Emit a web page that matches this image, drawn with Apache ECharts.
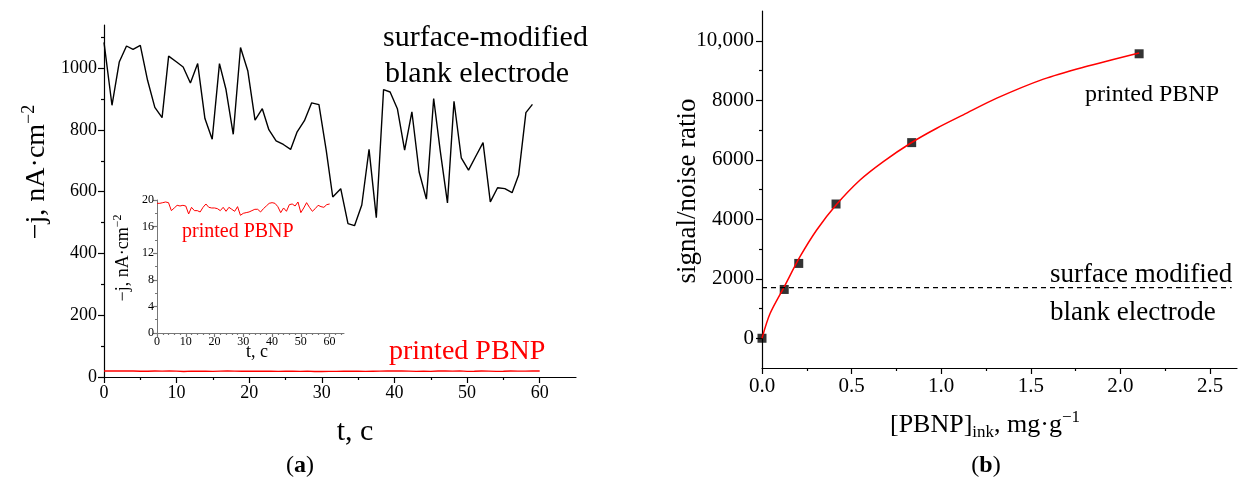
<!DOCTYPE html>
<html>
<head>
<meta charset="utf-8">
<script src="https://cdn.jsdelivr.net/npm/echarts@6/dist/echarts.min.js"></script>
<style>
  html, body { margin: 0; padding: 0; background: #fff; }
  #chart { width: 1254px; height: 484px; }
</style>
</head>
<body>
<div id="chart"></div>
<script>
// (a) current density vs time, surface-modified blank electrode
const blankT = [0, 1.1, 2.1, 3.1, 4.0, 5.0, 6.0, 7.0, 8.0, 8.9, 10.0, 10.9, 11.9, 12.9, 13.9,
  14.9, 15.9, 16.8, 17.8, 18.8, 19.8, 20.8, 21.8, 22.7, 23.7, 24.7, 25.7, 26.6, 27.6, 28.6,
  29.6, 30.6, 31.5, 32.6, 33.6, 34.5, 35.5, 36.5, 37.5, 38.5, 39.4, 40.4, 41.4, 42.4, 43.4,
  44.4, 45.4, 46.3, 47.3, 48.2, 49.2, 50.2, 51.2, 52.2, 53.2, 54.2, 55.2, 56.2, 57.1, 58.1, 59.0]
const blankJ = [1084, 880, 1020, 1072, 1061, 1074, 961, 873, 840, 1039, 1020, 1004, 952, 1015, 837,
  770, 1015, 931, 786, 1067, 992, 832, 869, 801, 765, 753, 737, 794, 830, 888,
  882, 735, 583, 610, 497, 490, 557, 737, 516, 931, 923, 869, 735, 859, 664,
  576, 902, 733, 564, 893, 710, 670, 715, 759, 567, 613, 610, 597, 654, 856, 883]

// printed PBNP, one reading per second (t = 0..60)
const pbnpJ = [19.5, 19.5, 19.6, 19.7, 19.6, 18.4, 18.8, 19.2, 19.1, 19.2, 19.1, 17.9, 18.9, 18.4, 18.4,
  18.2, 18.9, 19.4, 18.9, 18.8, 18.8, 18.7, 18.4, 18.9, 18.3, 18.9, 18.6, 18.3, 19.0, 17.7,
  18.0, 18.1, 18.2, 18.4, 18.6, 18.6, 18.2, 18.7, 19.1, 19.5, 19.6, 19.5, 19.0, 18.1, 18.8,
  18.3, 19.3, 19.4, 19.1, 19.7, 18.1, 18.8, 19.6, 18.9, 18.3, 18.7, 19.2, 19.0, 18.9, 19.3, 19.4]

// (b) signal/noise ratio vs PBNP content of the ink
const inkConc = [0, 0.124, 0.205, 0.413, 0.835, 2.104]
const snRatio = [0, 1640, 2515, 4512, 6576, 9562]
const fitConc = [0, 0.045, 0.124, 0.212, 0.305, 0.413, 0.547, 0.677, 0.835, 0.975, 1.123, 1.31, 1.57, 1.793, 2.104]
const fitRatio = [0, 830, 1730, 2740, 3640, 4480, 5320, 5940, 6580, 7060, 7510, 8070, 8710, 9110, 9590]
const blankLevel = 1700
const blankSpan = [0, 2.62]

const leftXTicks = [0, 10, 20, 30, 40, 50, 60]
const leftXMinor = [5, 15, 25, 35, 45, 55]
const leftYTicks = [0, 200, 400, 600, 800, 1000]
const leftYMinor = [100, 300, 500, 700, 900, 1100]
const insetXMinor = [2, 4, 6, 8, 12, 14, 16, 18, 22, 24, 26, 28, 32, 34, 36, 38, 42, 44, 46, 48, 52, 54, 56, 58, 62, 64]
const insetYTicks = [0, 4, 8, 12, 16, 20]
const insetYMinor = [2, 6, 10, 14, 18]
const rightXTicks = [0, 0.5, 1, 1.5, 2, 2.5]
const rightXMinor = [0.25, 0.75, 1.25, 1.75, 2.25]
const rightYTicks = [0, 2000, 4000, 6000, 8000, 10000]
const rightYMinor = [1000, 3000, 5000, 7000, 9000]

const FONT = 'Liberation Serif'
const RED = '#ff0000'
const plain = (v) => String(v)

function axisPair(grid, position, min, max, major, minor, o) {
  const color = o.color || '#000'
  const base = {
    type: 'value', gridIndex: grid, position, min, max,
    splitLine: { show: false },
  }
  return [
    {
      ...base,
      axisLine: { show: true, onZero: false, lineStyle: { color, width: o.lineWidth || 1.2 } },
      axisTick: { show: true, customValues: major, length: o.tick || 6, lineStyle: { color, width: 1.2 } },
      axisLabel: {
        show: true, customValues: major, color: '#000', fontFamily: FONT,
        fontSize: o.fontSize, margin: o.margin || 6, formatter: o.formatter || plain,
      },
    },
    {
      ...base,
      axisLine: { show: false, onZero: false },
      axisTick: { show: true, customValues: minor, length: o.minorTick || 3, lineStyle: { color, width: 1.2 } },
      axisLabel: { show: false },
    },
  ]
}

const chart = echarts.init(document.getElementById('chart'), null, { renderer: 'canvas' })

const xAxis = [
  ...axisPair(0, 'bottom', 0, 65, leftXTicks, leftXMinor, { fontSize: 18, margin: 7 }),
  ...axisPair(1, 'bottom', 0, 65, leftXTicks, insetXMinor, { fontSize: 12, color: '#777', tick: 4, minorTick: 2, margin: 3, lineWidth: 1 }),
  ...axisPair(2, 'bottom', 0, 2.65, rightXTicks, rightXMinor,
    { fontSize: 21, margin: 8, formatter: (v) => v.toFixed(1) }),
]
const yAxis = [
  ...axisPair(0, 'left', 0, 1140, leftYTicks, leftYMinor, { fontSize: 18, margin: 7 }),
  ...axisPair(1, 'left', 0, 20, insetYTicks, insetYMinor, { fontSize: 12, color: '#777', tick: 4, minorTick: 2, margin: 3, lineWidth: 1 }),
  ...axisPair(2, 'left', -1000, 11000, rightYTicks, rightYMinor,
    { fontSize: 21, margin: 8, formatter: (v) => (v >= 10000 ? v.toLocaleString('en-US') : String(v)) }),
]

function txt(text, x, y, size, extra) {
  return {
    type: 'text', x, y, silent: true,
    rotation: (extra && extra.rotation) || 0,
    style: {
      text, fontFamily: FONT, fontSize: size, fill: (extra && extra.fill) || '#000',
      align: (extra && extra.align) || 'left', verticalAlign: 'middle',
      rich: extra && extra.rich,
    },
  }
}

const supRich = (size, sup) => ({
  sup: { fontSize: sup, fontFamily: FONT, verticalAlign: 'top', lineHeight: size * 1.2 },
  sub: { fontSize: sup, fontFamily: FONT, verticalAlign: 'bottom', lineHeight: size * 1.2 },
  base: { fontSize: size, fontFamily: FONT, lineHeight: size * 1.2 },
  b: { fontSize: size, fontFamily: FONT, fontWeight: 'bold', lineHeight: size * 1.2 },
})

const option = {
  animation: false,
  backgroundColor: '#fff',
  grid: [
    { left: 104, top: 25, width: 472, height: 352 },
    { left: 157, top: 200, width: 187, height: 133 },
    { left: 762, top: 11, width: 475, height: 357 },
  ],
  xAxis,
  yAxis,
  series: [
    {
      type: 'line', xAxisIndex: 0, yAxisIndex: 0, showSymbol: false,
      data: blankT.map((t, i) => [t, blankJ[i]]),
      lineStyle: { color: '#000', width: 1.4 },
    },
    {
      type: 'line', xAxisIndex: 0, yAxisIndex: 0, showSymbol: false,
      data: pbnpJ.map((v, t) => [t, v]),
      lineStyle: { color: RED, width: 1.4 },
    },
    {
      type: 'line', xAxisIndex: 2, yAxisIndex: 2, showSymbol: false,
      data: pbnpJ.map((v, t) => [t, v]),
      lineStyle: { color: RED, width: 1 },
    },
    {
      type: 'line', xAxisIndex: 4, yAxisIndex: 4, showSymbol: false, smooth: 0.3,
      data: fitConc.map((c, i) => [c, fitRatio[i]]),
      lineStyle: { color: RED, width: 1.5 },
    },
    {
      type: 'line', xAxisIndex: 4, yAxisIndex: 4, showSymbol: false,
      data: blankSpan.map((c) => [c, blankLevel]),
      lineStyle: { color: '#000', width: 1.2, type: [5, 4] },
    },
    {
      type: 'scatter', xAxisIndex: 4, yAxisIndex: 4, symbol: 'rect', symbolSize: 9,
      data: inkConc.map((c, i) => [c, snRatio[i]]),
      itemStyle: { color: '#000' },
    },
  ],
  graphic: [
    txt('surface-modified', 383, 38, 30),
    txt('blank electrode', 385, 74, 30),
    txt('printed PBNP', 389, 352, 28, { fill: RED }),
    txt('printed PBNP', 182, 232, 20, { fill: RED }),
    txt('{base|−j, nA·cm}{sup|−2}', 123, 258, 18, { align: 'center', rotation: Math.PI / 2, rich: supRich(18, 12) }),
    txt('t, c', 257, 352, 18, { align: 'center' }),
    txt('{base|−j, nA·cm}{sup|−2}', 37, 172, 28, { align: 'center', rotation: Math.PI / 2, rich: supRich(28, 18) }),
    txt('t, c', 355, 432, 30, { align: 'center' }),
    txt('{base|(}{b|a}{base|)}', 300, 466, 24, { align: 'center', rich: supRich(24, 16) }),

    txt('signal/noise ratio', 688, 191, 27, { align: 'center', rotation: Math.PI / 2 }),
    txt('printed PBNP', 1085, 95, 24),
    txt('surface modified', 1050, 275, 27),
    txt('blank electrode', 1050, 313, 27),
    txt('{base|[PBNP]}{sub|ink}{base|, mg·g}{sup|−1}', 985, 425, 26, { align: 'center', rich: supRich(26, 17) }),
    txt('{base|(}{b|b}{base|)}', 986, 466, 24, { align: 'center', rich: supRich(24, 16) }),
  ],
}

chart.setOption(option)
</script>
</body>
</html>
